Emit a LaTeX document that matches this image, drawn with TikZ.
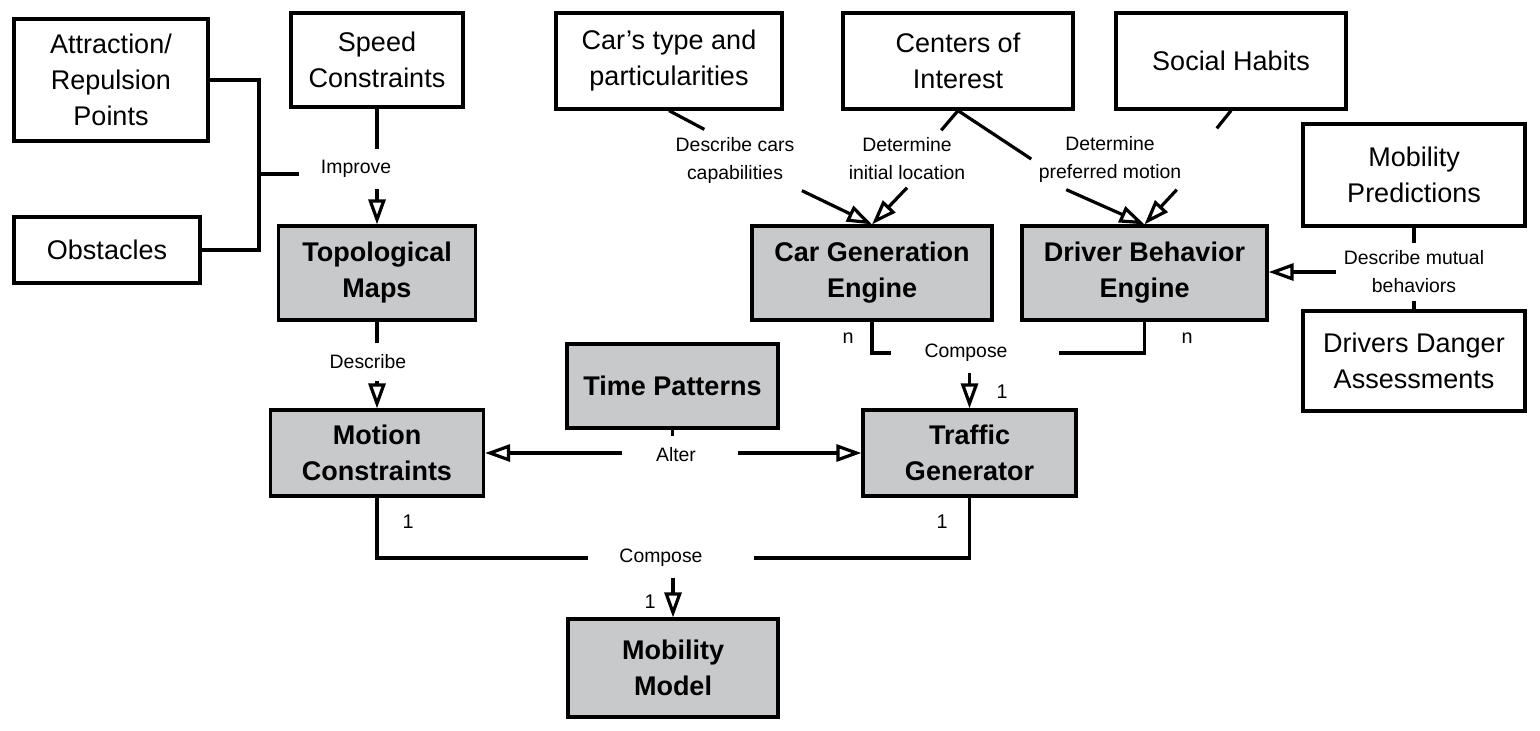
\documentclass[tikz,border=0pt]{standalone}
\usepackage{fontspec}
\setmainfont{Liberation Sans}
\usetikzlibrary{arrows.meta}
\definecolor{boxgray}{RGB}{200,201,203}

\begin{document}
\begin{tikzpicture}[x=0.5pt,y=-0.5pt,line width=1.6pt,
    >={Triangle[open,length=12.5pt,width=8.5pt]}]
    \tikzstyle{entity}=[draw,rectangle,align=center,inner sep=2pt,font=\fontsize{13.5}{18}\selectfont]
    \tikzstyle{source}=[entity,fill=white]
    \tikzstyle{engine}=[entity,fill=boxgray,font=\fontsize{13.5}{18}\selectfont\bfseries]
    \tikzstyle{rel}=[align=center,inner xsep=3pt,inner ysep=5pt,font=\fontsize{9.7}{14}\selectfont]
    \tikzstyle{mult}=[inner sep=1pt,font=\fontsize{9.9}{12}\selectfont]
    \useasboundingbox (0,0) rectangle (1540,730);
    % Draw the input boxes
    \node[source, minimum width=97pt, minimum height=61pt] (attr) at (111,80) {Attraction/\\Repulsion\\Points};
    \node[source, minimum width=86pt, minimum height=47pt] (speed) at (377,60) {Speed\\Constraints};
    \node[source, minimum width=93pt, minimum height=33pt] (obst) at (107,250) {Obstacles};
    \node[source, minimum width=113pt, minimum height=48pt] (cartype) at (669,61) {Car’s type and\\particularities};
    \node[source, minimum width=115pt, minimum height=48pt] (centers) at (958,61) {Centers of\\Interest};
    \node[source, minimum width=115pt, minimum height=48pt] (social) at (1231,61) {Social Habits};
    \node[source, minimum width=111pt, minimum height=51pt] (mobpred) at (1414,175) {Mobility\\Predictions};
    \node[source, minimum width=111pt, minimum height=50pt] (danger) at (1414,361) {Drivers Danger\\Assessments};
    % Draw the engines and models
    \node[engine, minimum width=98.5pt, minimum height=47pt] (topo) at (377,273) {Topological\\Maps};
    \node[engine, minimum width=120pt, minimum height=47pt] (cargen) at (872,273) {Car Generation\\Engine};
    \node[engine, minimum width=122.5pt, minimum height=47pt] (driver) at (1144.5,273) {Driver Behavior\\Engine};
    \node[engine, minimum width=105.5pt, minimum height=42pt] (time) at (672.5,386) {Time Patterns};
    \node[engine, minimum width=106.5pt, minimum height=43pt] (motion) at (377,453) {Motion\\Constraints};
    \node[engine, minimum width=106.5pt, minimum height=43pt] (traffic) at (969.5,453) {Traffic\\Generator};
    \node[engine, minimum width=105pt, minimum height=49pt] (mobmodel) at (673,668) {Mobility\\Model};
    % Relation labels
    \node[rel, inner xsep=10pt] (imp) at (356,169) {Improve};
    \node[rel] (desc) at (368,362) {Describe};
    \node[rel, inner xsep=16pt] (alt) at (676,455) {Alter};
    \node[rel, inner xsep=15pt] (cmp1) at (661,558) {Compose};
    \node[rel, inner xsep=16pt] (cmp2) at (966,353) {Compose};
    \node[rel, inner ysep=3pt] (dcc) at (735,160) {Describe cars\\capabilities};
    \node[rel, inner ysep=3pt] (dil) at (907,159) {Determine\\initial location};
    \node[rel, inner ysep=3pt] (dpm) at (1110,159) {Determine\\preferred motion};
    \node[rel, inner ysep=3pt] (dmb) at (1414,272) {Describe mutual\\behaviors};
    % Multiplicities
    \node[mult] (m1) at (848,338) {n};
    \node[mult] (m2) at (1187,338) {n};
    \node[mult] (m3) at (1002,392) {1};
    \node[mult] (m4) at (408,522) {1};
    \node[mult] (m5) at (942,522) {1};
    \node[mult] (m6) at (650,602) {1};
    % Improve
    \coordinate (jimp) at (259,174);
    \draw (attr.east) -| (jimp) |- (obst.east);
    \draw (jimp) -- (jimp -| imp.west);
    \draw (speed.south) -- (speed.south |- imp.north);
    \draw[->] (speed.south |- imp.south) -- (topo.north);
    % Describe
    \draw (topo.south) -- (topo.south |- desc.north);
    \draw[->] (topo.south |- desc.south) -- (motion.north);
    % Alter
    \draw (time.south) -- (time.south |- alt.north);
    \draw[->] (alt.west |- motion.east) -- (motion.east);
    \draw[->] ([xshift=4pt]alt.east |- traffic.west) -- (traffic.west);
    % Compose the mobility model
    \draw (motion.south) |- (cmp1.west);
    \draw (traffic.south) |- ([xshift=10pt]cmp1.east);
    \draw[->] (mobmodel.north |- cmp1.south) -- (mobmodel.north);
    % Compose the traffic generator
    \draw (cargen.south) |- (cmp2.west);
    \draw (driver.south) |- ([xshift=9pt]cmp2.east);
    \draw[->] (traffic.north |- cmp2.south) -- (traffic.north);
    % Engines inputs
    \draw (cartype.south) -- (dcc.135);
    \draw[->] (dcc.south east) -- (cargen.north);
    \draw (centers.south) -- (dil.40);
    \draw[->] (dil.south) -- (cargen.north);
    \draw (centers.south) -- (dpm.west);
    \draw[->] (dpm.215) -- (driver.north);
    \draw (social.south) -- ([xshift=14pt]dpm.north east);
    \draw[->] ([xshift=-6pt]dpm.south east) -- (driver.north);
    \draw (mobpred.south) -- (dmb.north);
    \draw (danger.north) -- (dmb.south);
    \draw[->] (dmb.west) -- (dmb.west -| driver.east);
\end{tikzpicture}
\end{document}
